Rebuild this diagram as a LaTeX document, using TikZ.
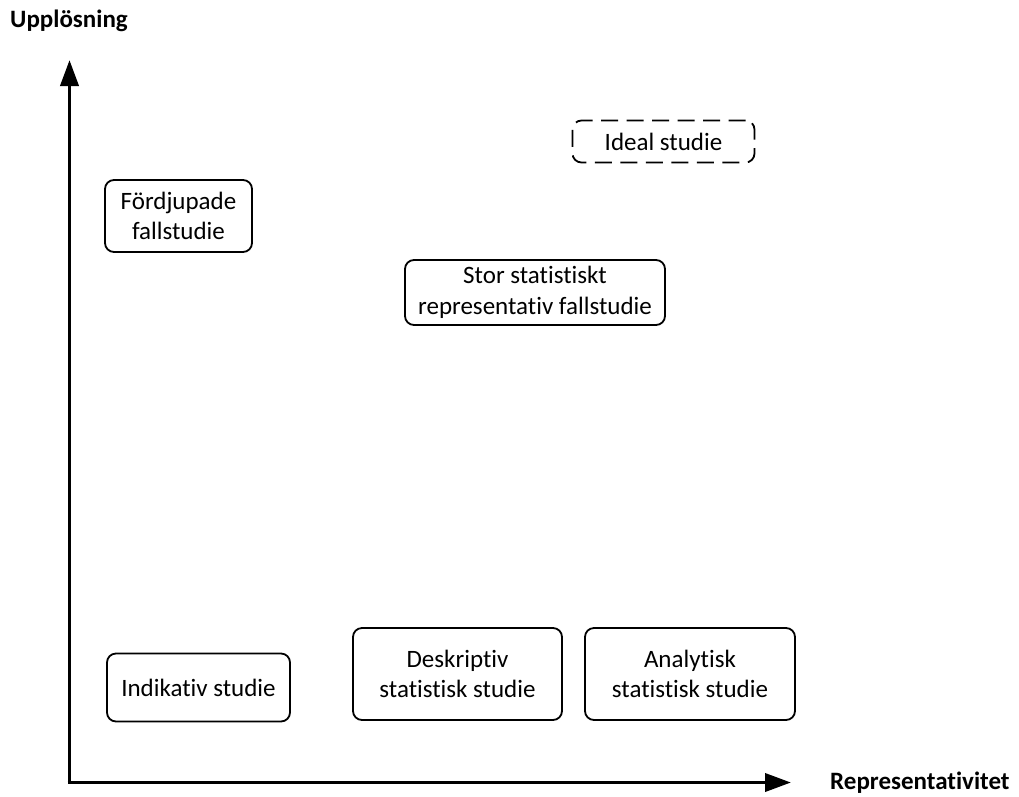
\documentclass[tikz,border=0pt]{standalone}
\usepackage{fontspec}
\setmainfont{Carlito}[RawFeature={-liga,-clig,-dlig}]
\usetikzlibrary{arrows.meta}
\begin{document}
\begin{tikzpicture}[x=1pt,y=-1pt,
  box/.style={draw,line width=1.8pt,rounded corners=9pt,align=center,inner sep=0pt,
    font=\fontsize{25}{30.5}\selectfont},
  dashbox/.style={box,dash pattern=on 17pt off 8.5pt},
  axis/.style={line width=3.8pt,-{Triangle[length=26pt,width=18pt]}},
  lab/.style={font=\fontsize{25}{30}\selectfont\bfseries,inner sep=0pt}]
\useasboundingbox (0,0) rectangle (1019,796);
\coordinate (o) at (69.5,782.5);
\coordinate (ytip) at (69.5,60);
\coordinate (xtip) at (791,782.5);
\draw[axis] (o) -- (ytip);
\draw[axis] (o) -- (xtip);
\draw[line width=3.8pt] ([xshift=-1.9pt]o) -- ([xshift=2pt]o);
\node[lab,anchor=base west] (ylab) at (10,27) {Upplösning};
\node[lab,anchor=base west] (xlab) at (830,789) {Representativitet};
\node[dashbox,minimum width=182pt,minimum height=42pt] (ideal) at (663.5,141.5) {Ideal studie};
\node[box,minimum width=147pt,minimum height=72pt] (ford) at (178.5,216) {Fördjupade\\fallstudie};
\node[box,minimum width=260pt,minimum height=65pt] (stor) at (535,292.5) {Stor statistiskt\\representativ fallstudie};
\node[box,minimum width=183pt,minimum height=68pt] (ind) at (198.5,687.5) {Indikativ studie};
\node[box,minimum width=209pt,minimum height=92pt] (desk) at (457.5,674) {Deskriptiv\\statistisk studie};
\node[box,minimum width=210pt,minimum height=92pt] (anal) at (690,674) {Analytisk\\statistisk studie};
\end{tikzpicture}
\end{document}
